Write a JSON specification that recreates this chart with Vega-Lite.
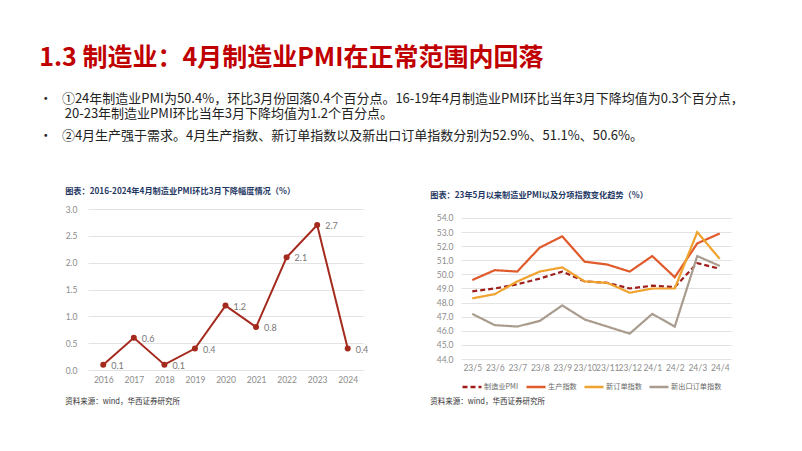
{
  "$schema": "https://vega.github.io/schema/vega-lite/v6.json",
  "background": "white",
  "padding": {"left": 39, "top": 45, "right": 10, "bottom": 10},
  "title": {
    "text": "1.3 制造业：4月制造业PMI在正常范围内回落",
    "subtitle": ["•\u2002\u2005①24年制造业PMI为50.4%，环比3月份回落0.4个百分点。16-19年4月制造业PMI环比当年3月下降均值为0.3个百分点，", "\u200B", "\u2800\u3000\u200920-23年制造业PMI环比当年3月下降均值为1.2个百分点。", "\u200B", "\u200B", "•\u2002\u2005②4月生产强于需求。4月生产指数、新订单指数以及新出口订单指数分别为52.9%、51.1%、50.6%。"],
    "anchor": "start",
    "frame": "bounds",
    "dx": -26,
    "font": "Noto Sans CJK SC",
    "fontSize": 25,
    "fontWeight": "bold",
    "color": "#C00000",
    "subtitleFont": "Noto Sans CJK SC",
    "subtitleFontSize": 13,
    "subtitleColor": "#222222",
    "subtitleLineHeight": 7.4,
    "subtitlePadding": 22,
    "offset": 44
  },
  "spacing": 61,
  "resolve": {"legend": {"color": "independent", "strokeDash": "independent"}},
  "hconcat": [
    {
      "title": {"text": "资料来源：wind，华西证券研究所", "orient": "bottom", "anchor": "start", "frame": "bounds", "font": "Noto Sans CJK SC", "fontSize": 7.5, "fontWeight": "normal", "color": "#333333", "offset": 14},
      "vconcat": [
        {
          "title": {"text": "图表：2016-2024年4月制造业PMI环比3月下降幅度情况（%）", "anchor": "start", "frame": "bounds", "font": "Noto Sans CJK SC", "fontSize": 8.2, "fontWeight": "bold", "color": "#1F3864", "offset": 9},
          "width": 275,
          "height": 161,
          "data": {"values": [
            {"year": "2016", "v": 0.1},
            {"year": "2017", "v": 0.6},
            {"year": "2018", "v": 0.1},
            {"year": "2019", "v": 0.4},
            {"year": "2020", "v": 1.2},
            {"year": "2021", "v": 0.8},
            {"year": "2022", "v": 2.1},
            {"year": "2023", "v": 2.7},
            {"year": "2024", "v": 0.4}
          ]},
          "encoding": {
            "x": {"field": "year", "type": "ordinal", "scale": {"type": "point", "padding": 0.5}, "axis": {"title": null, "labelAngle": 0, "domain": false, "ticks": false, "labelPadding": 5}},
            "y": {"field": "v", "type": "quantitative", "scale": {"domain": [0, 3]}, "axis": {"title": null, "tickCount": 6, "format": ".1f", "domain": false, "ticks": false, "labelPadding": 11}}
          },
          "layer": [
            {"mark": {"type": "line", "color": "#A52A1E", "strokeWidth": 2}},
            {"mark": {"type": "point", "filled": true, "color": "#A52A1E", "size": 36, "opacity": 1}},
            {"mark": {"type": "text", "align": "left", "dx": 8, "dy": 1, "color": "#777777", "font": "Lato", "fontSize": 9}, "encoding": {"text": {"field": "v", "type": "quantitative", "format": ".1f"}}}
          ]
        }
      ]
    },
    {
      "title": {"text": "资料来源：wind，华西证券研究所", "orient": "bottom", "anchor": "start", "frame": "bounds", "font": "Noto Sans CJK SC", "fontSize": 7.5, "fontWeight": "normal", "color": "#333333", "offset": 6},
      "resolve": {"legend": {"color": "independent", "strokeDash": "independent"}},
      "vconcat": [
        {
          "title": {"text": "图表：23年5月以来制造业PMI以及分项指数变化趋势（%）", "anchor": "start", "frame": "bounds", "font": "Noto Sans CJK SC", "fontSize": 8.2, "fontWeight": "bold", "color": "#1F3864", "offset": 9, "dx": -6},
          "width": 270,
          "height": 150,
          "data": {"values": [
            {"m": "23/5", "s": "制造业PMI", "v": 48.8},
            {"m": "23/6", "s": "制造业PMI", "v": 49.0},
            {"m": "23/7", "s": "制造业PMI", "v": 49.3},
            {"m": "23/8", "s": "制造业PMI", "v": 49.7},
            {"m": "23/9", "s": "制造业PMI", "v": 50.2},
            {"m": "23/10", "s": "制造业PMI", "v": 49.5},
            {"m": "23/11", "s": "制造业PMI", "v": 49.4},
            {"m": "23/12", "s": "制造业PMI", "v": 49.0},
            {"m": "24/1", "s": "制造业PMI", "v": 49.2},
            {"m": "24/2", "s": "制造业PMI", "v": 49.1},
            {"m": "24/3", "s": "制造业PMI", "v": 50.8},
            {"m": "24/4", "s": "制造业PMI", "v": 50.4},
            {"m": "23/5", "s": "生产指数", "v": 49.6},
            {"m": "23/6", "s": "生产指数", "v": 50.3},
            {"m": "23/7", "s": "生产指数", "v": 50.2},
            {"m": "23/8", "s": "生产指数", "v": 51.9},
            {"m": "23/9", "s": "生产指数", "v": 52.7},
            {"m": "23/10", "s": "生产指数", "v": 50.9},
            {"m": "23/11", "s": "生产指数", "v": 50.7},
            {"m": "23/12", "s": "生产指数", "v": 50.2},
            {"m": "24/1", "s": "生产指数", "v": 51.3},
            {"m": "24/2", "s": "生产指数", "v": 49.8},
            {"m": "24/3", "s": "生产指数", "v": 52.2},
            {"m": "24/4", "s": "生产指数", "v": 52.9},
            {"m": "23/5", "s": "新订单指数", "v": 48.3},
            {"m": "23/6", "s": "新订单指数", "v": 48.6},
            {"m": "23/7", "s": "新订单指数", "v": 49.5},
            {"m": "23/8", "s": "新订单指数", "v": 50.2},
            {"m": "23/9", "s": "新订单指数", "v": 50.5},
            {"m": "23/10", "s": "新订单指数", "v": 49.5},
            {"m": "23/11", "s": "新订单指数", "v": 49.4},
            {"m": "23/12", "s": "新订单指数", "v": 48.7},
            {"m": "24/1", "s": "新订单指数", "v": 49.0},
            {"m": "24/2", "s": "新订单指数", "v": 49.0},
            {"m": "24/3", "s": "新订单指数", "v": 53.0},
            {"m": "24/4", "s": "新订单指数", "v": 51.1},
            {"m": "23/5", "s": "新出口订单指数", "v": 47.2},
            {"m": "23/6", "s": "新出口订单指数", "v": 46.4},
            {"m": "23/7", "s": "新出口订单指数", "v": 46.3},
            {"m": "23/8", "s": "新出口订单指数", "v": 46.7},
            {"m": "23/9", "s": "新出口订单指数", "v": 47.8},
            {"m": "23/10", "s": "新出口订单指数", "v": 46.8},
            {"m": "23/11", "s": "新出口订单指数", "v": 46.3},
            {"m": "23/12", "s": "新出口订单指数", "v": 45.8},
            {"m": "24/1", "s": "新出口订单指数", "v": 47.2},
            {"m": "24/2", "s": "新出口订单指数", "v": 46.3},
            {"m": "24/3", "s": "新出口订单指数", "v": 51.3},
            {"m": "24/4", "s": "新出口订单指数", "v": 50.6}
          ]},
          "mark": {"type": "line", "strokeWidth": 2.2},
          "encoding": {
            "x": {"field": "m", "type": "ordinal", "sort": null, "scale": {"type": "point", "padding": 0.5}, "axis": {"title": null, "labelAngle": 0, "domain": false, "ticks": false, "labelPadding": 4}},
            "y": {"field": "v", "type": "quantitative", "scale": {"domain": [44, 54.638], "zero": false, "nice": false}, "axis": {"title": null, "values": [44, 45, 46, 47, 48, 49, 50, 51, 52, 53, 54], "format": ".1f", "domain": false, "ticks": false, "labelPadding": 8}},
            "color": {"field": "s", "type": "nominal", "sort": null, "title": null, "scale": {"domain": ["制造业PMI", "生产指数", "新订单指数", "新出口订单指数"], "range": ["#9E1F1A", "#E05A2B", "#EFA22E", "#A99C8E"]}, "legend": {"orient": "bottom", "direction": "horizontal", "symbolType": "stroke", "symbolSize": 361, "symbolStrokeWidth": 2.5, "labelFont": "Noto Sans CJK SC", "labelFontSize": 7.2, "labelColor": "#666666", "columnPadding": 2, "labelOffset": 1, "offset": 4}},
            "strokeDash": {"field": "s", "type": "nominal", "sort": null, "title": null, "scale": {"domain": ["制造业PMI", "生产指数", "新订单指数", "新出口订单指数"], "range": [[5, 3], [1, 0], [1, 0], [1, 0]]}}
          }
        }
      ]
    }
  ],
  "config": {
    "view": {"stroke": null},
    "axis": {"labelFont": "Lato", "labelFontSize": 8.5, "labelColor": "#8C8C8C", "gridColor": "#E3E3E3", "gridWidth": 1},
    "axisX": {"grid": false},
    "legend": {"labelFont": "Noto Sans CJK SC"}
  }
}
